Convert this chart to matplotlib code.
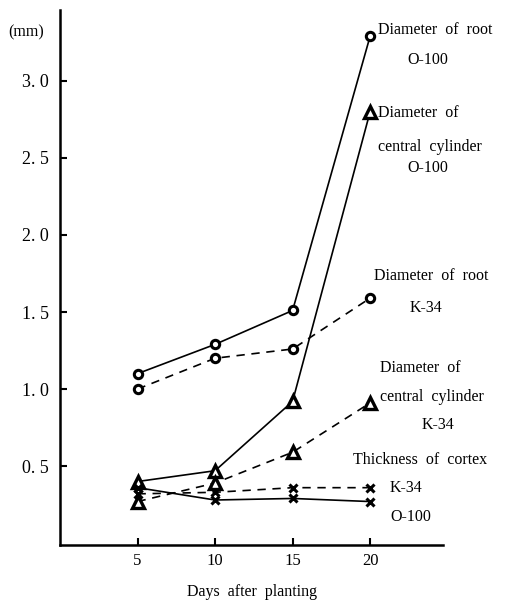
import matplotlib
matplotlib.use("Agg")
import matplotlib.pyplot as plt

days = [5, 10, 15, 20]

root_o100 = [1.10, 1.29, 1.51, 3.29]
root_k34 = [1.00, 1.20, 1.26, 1.59]
cyl_o100 = [0.40, 0.47, 0.92, 2.80]
cyl_k34 = [0.27, 0.39, 0.59, 0.91]
cortex_k34 = [0.32, 0.33, 0.36, 0.36]
cortex_o100 = [0.36, 0.28, 0.29, 0.27]

yticks = [0.5, 1.0, 1.5, 2.0, 2.5, 3.0]
ytick_labels = ["0. 5", "1. 0", "1. 5", "2. 0", "2. 5", "3. 0"]
xticks = [5, 10, 15, 20]

plt.rcParams['font.family'] = ['Liberation Serif', 'DejaVu Serif']

W, H = 518, 603
fig = plt.figure(figsize=(W / 100, H / 100), dpi=100)
ax = fig.add_axes([60 / W, 1 - 545 / H, (443 - 60) / W, (545 - 10) / H])

dash = (0, (5, 4))
kw = dict(color='black', lw=1.2, markerfacecolor='white', markeredgecolor='black')
ax.plot(days, root_o100, '-', marker='o', ms=6, mew=2.2, **kw)
ax.plot(days, root_k34, linestyle=dash, marker='o', ms=6, mew=2.2, **kw)
ax.plot(days, cyl_o100, '-', marker='^', ms=9, mew=2.4, **kw)
ax.plot(days, cyl_k34, linestyle=dash, marker='^', ms=9, mew=2.4, **kw)
ax.plot(days, cortex_k34, linestyle=dash, marker='x', ms=6, mew=2.2, color='black', lw=1.2)
ax.plot(days, cortex_o100, '-', marker='x', ms=6, mew=2.2, color='black', lw=1.2)

ax.set_xlim(0, 24.7)
ax.set_ylim(-0.012, 3.46)
ax.spines['top'].set_visible(False)
ax.spines['right'].set_visible(False)
ax.spines['left'].set_linewidth(1.8)
ax.spines['bottom'].set_linewidth(1.8)
ax.set_xticks(xticks)
ax.set_xticklabels([str(v) for v in xticks], fontsize=12)
ax.set_yticks(yticks)
ax.set_yticklabels(ytick_labels, fontsize=13)
ax.tick_params(direction='in', length=5, width=1.5, pad=8)
ax.tick_params(axis='x', pad=6)


def label(x, y, s, ha='left'):
    fig.text(x / W, 1 - y / H, s, ha=ha, va='center', fontsize=11.5)


label(8, 32, "(mm)")
label(378, 30, "Diameter  of  root")
label(428, 60, "O-100", ha='center')
label(378, 113, "Diameter  of")
label(378, 147, "central  cylinder")
label(428, 168, "O-100", ha='center')
label(374, 276, "Diameter  of  root")
label(426, 308, "K-34", ha='center')
label(380, 368, "Diameter  of")
label(380, 397, "central  cylinder")
label(438, 425, "K-34", ha='center')
label(353, 460, "Thickness  of  cortex")
label(390, 488, "K-34")
label(390, 517, "O-100")
label(252, 592, "Days  after  planting", ha='center')

fig.savefig("out.png", dpi=100)
